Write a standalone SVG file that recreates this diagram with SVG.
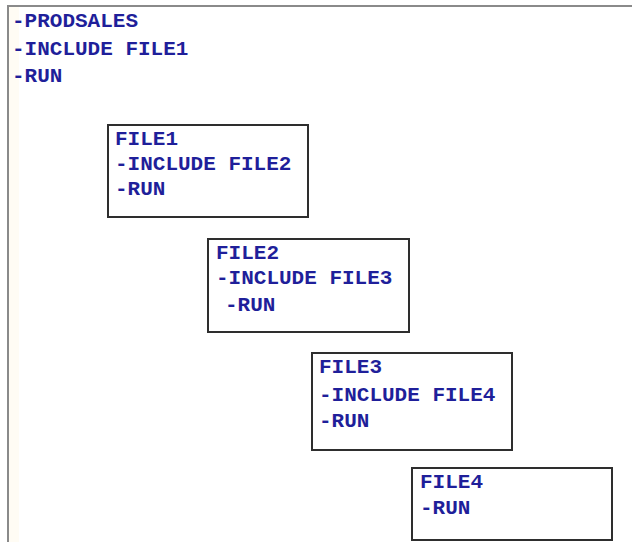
<svg xmlns="http://www.w3.org/2000/svg" width="632" height="542" viewBox="0 0 632 542">
  <style>
    .t { font-family: "Liberation Mono", "Courier New", monospace; font-weight: bold; font-size: 21px; fill: #1f1f9a; }
    .box { fill: #ffffff; stroke: #2e2e2e; stroke-width: 2; }
    .frame { stroke: #8a8a8a; stroke-width: 2; fill: none; }
  </style>
  <rect x="0" y="0" width="632" height="542" fill="#ffffff"/>
  <!-- panel margin strip and frame -->
  <rect x="9" y="7" width="10" height="535" fill="#fffcf4"/>
  <path class="frame" d="M8 542 V6 H632"/>

  <g id="main">
    <text class="t" x="12" y="27">-PRODSALES</text>
    <text class="t" x="12" y="55">-INCLUDE FILE1</text>
    <text class="t" x="12" y="82">-RUN</text>
  </g>

  <g id="connectors"></g>

  <g id="file1">
    <rect class="box" x="108" y="125" width="200" height="92"/>
    <text class="t" x="115" y="145">FILE1</text>
    <text class="t" x="115" y="170">-INCLUDE FILE2</text>
    <text class="t" x="115" y="195">-RUN</text>
  </g>

  <g id="file2">
    <rect class="box" x="208" y="239" width="201" height="93"/>
    <text class="t" x="216" y="259">FILE2</text>
    <text class="t" x="216" y="284">-INCLUDE FILE3</text>
    <text class="t" x="225" y="311">-RUN</text>
  </g>

  <g id="file3">
    <rect class="box" x="312" y="353" width="200" height="97"/>
    <text class="t" x="319" y="373">FILE3</text>
    <text class="t" x="319" y="401">-INCLUDE FILE4</text>
    <text class="t" x="319" y="427">-RUN</text>
  </g>

  <g id="file4">
    <rect class="box" x="412" y="468" width="200" height="72"/>
    <text class="t" x="420" y="488">FILE4</text>
    <text class="t" x="420" y="514">-RUN</text>
  </g>
</svg>
